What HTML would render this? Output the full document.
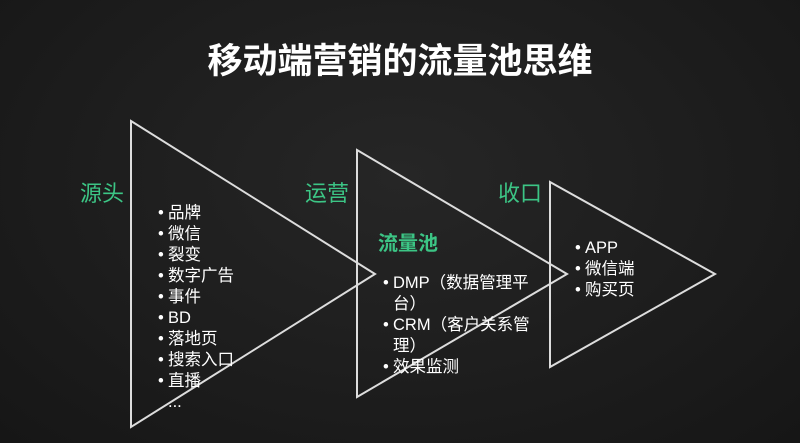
<!DOCTYPE html>
<html><head><meta charset="utf-8"><style>
body{margin:0;width:800px;height:443px;overflow:hidden;background:radial-gradient(ellipse at 50% 40%,#262626,#161616);font-family:"Liberation Sans","Noto Sans CJK SC",sans-serif;color:#fff;position:relative}
.t{position:absolute;white-space:nowrap}
.g{color:#3cc585;font-size:22px}
.li{position:absolute;font-size:16.5px;line-height:21px;white-space:nowrap}
.li div:before{content:"•";display:inline-block;width:10px;margin-left:-10px}
.nb:before{content:""!important}
</style></head><body>
<svg width="800" height="443" style="position:absolute;left:0;top:0">
<g fill="none" stroke="#ddd" stroke-width="2">
<polygon points="131,121 375,274 131,427"/>
<polygon points="357,150 567,274 357,397"/>
<polygon points="550,182 715,274 550,367"/>
</g></svg>
<div class="t" style="left:0;width:800px;text-align:center;top:33px;font-size:35px;font-weight:bold">移动端营销的流量池思维</div>
<div class="t g" style="left:80px;top:176px">源头</div>
<div class="t g" style="left:305px;top:176px">运营</div>
<div class="t g" style="left:498px;top:176px">收口</div>
<div class="t" style="left:378px;top:227px;font-size:20px;font-weight:bold;color:#3cc585">流量池</div>
<div class="li" style="left:168px;top:203px">
<div>品牌</div><div>微信</div><div>裂变</div><div>数字广告</div><div>事件</div><div>BD</div><div>落地页</div><div>搜索入口</div><div>直播</div><div class="nb">...</div>
</div>
<div class="li" style="left:393px;top:273px">
<div>DMP（数据管理平</div><div class="nb">台）</div><div>CRM（客户关系管</div><div class="nb">理）</div><div>效果监测</div>
</div>
<div class="li" style="left:585px;top:238px">
<div>APP</div><div>微信端</div><div>购买页</div>
</div>
</body></html>
